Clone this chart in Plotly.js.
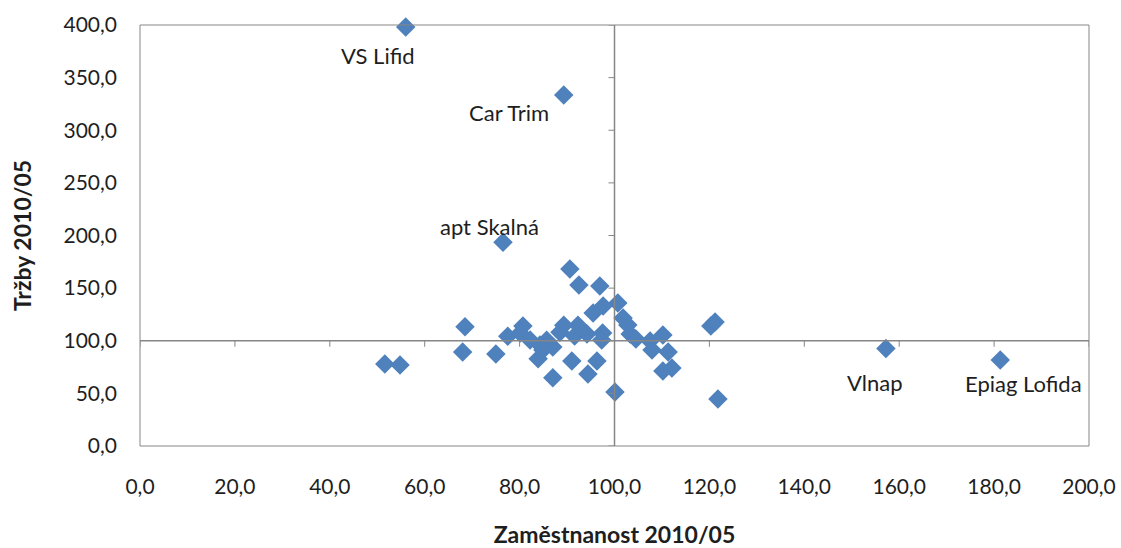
<!DOCTYPE html>
<html><head><meta charset="utf-8">
<script src="https://cdn.plot.ly/plotly-3.0.1.min.js"></script>
<style>html,body{margin:0;padding:0;background:#fff}#chart{width:1121px;height:548px}</style>
</head><body><div id="chart"></div>
<script>
// Zaměstnanost 2010/05 (x) vs Tržby 2010/05 (y)
const zamestnanost = [51.6,54.8,68.5,68.0,75.0,76.5,56.0,89.3,77.5,80.7,83.9,87.0,90.6,92.5,96.9,100.7,97.6,95.5,89.3,92.3,88.5,85.7,84.9,87.0,91.6,94.2,97.5,97.3,91.0,96.3,94.4,100.1,101.8,102.8,103.3,104.5,107.5,107.9,110.2,111.3,110.2,112.1,120.3,121.2,121.8,157.2,181.3,82.2,84.3,80.1];
const trzby = [77.9,77.0,113.2,89.3,87.4,193.6,398.1,333.5,104.3,114.0,82.9,64.8,168.2,153.0,152.0,135.9,133.0,126.4,114.7,114.7,108.1,100.5,91.2,94.1,104.5,106.4,107.3,100.6,80.8,80.8,68.4,51.3,121.6,115.0,106.4,101.7,99.8,91.2,105.5,89.3,71.3,74.1,114.0,117.8,44.7,92.6,81.7,100.7,96.0,107.4];
const labelNames = ["VS Lifid","Car Trim","apt Skalná","Vlnap","Epiag Lofida"];
const labelX = [56.0,89.3,76.5,157.2,181.3];
const labelY = [398.1,333.5,193.6,92.6,81.7];
const labelShift = [[-28,-28],[-55,-18],[-13,16],[-11,-34],[23,-23]];
const xTicks = [0,20,40,60,80,100,120,140,160,180,200];
const yTicks = [0,50,100,150,200,250,300,350,400];

const axisGrey = '#868686';
const font = 'Lato, "Open Sans", sans-serif';
const txt = '#1e1e1e';

const shapes = [
  {type:'rect', xref:'paper', yref:'paper', x0:0, x1:1, y0:0, y1:1, line:{color:axisGrey, width:1}},
  {type:'line', xref:'x', yref:'y', x0:100, x1:100, y0:0, y1:400, line:{color:axisGrey, width:1.5}},
  {type:'line', xref:'x', yref:'y', x0:0, x1:200, y0:100, y1:100, line:{color:axisGrey, width:1.5}}
];
yTicks.forEach(v => shapes.push({type:'line', xref:'x', yref:'y', xsizemode:'pixel', xanchor:100, x0:-6, x1:0, y0:v, y1:v, line:{color:axisGrey, width:1}}));
xTicks.forEach(v => shapes.push({type:'line', xref:'x', yref:'y', ysizemode:'pixel', yanchor:100, y0:-6, y1:0, x0:v, x1:v, line:{color:axisGrey, width:1}}));

const annotations = labelNames.map((t,i) => ({
  x: labelX[i], y: labelY[i], xref:'x', yref:'y', text:t, showarrow:false,
  xshift: labelShift[i][0], yshift: labelShift[i][1],
  font:{family:font, size:22, color:txt}
}));

const data = [{
  type:'scatter', mode:'markers', x:zamestnanost, y:trzby,
  marker:{symbol:'diamond', size:15, color:'#4F81BD'},
  cliponaxis:false, hoverinfo:'x+y'
}];

const layout = {
  width:1121, height:548,
  margin:{l:140, r:32, t:25, b:102},
  paper_bgcolor:'#fff', plot_bgcolor:'#fff',
  showlegend:false,
  separators:', ',
  font:{family:font, size:21, color:txt},
  xaxis:{range:[0,200], tickvals:xTicks, tickformat:'.1f', showgrid:false, zeroline:false, showline:false, ticks:'', ticklabelstandoff:26,
    title:{text:'<b>Zaměstnanost 2010/05</b>', font:{family:font, size:23, color:txt}, standoff:32}},
  yaxis:{range:[0,400], tickvals:yTicks, tickformat:'.1f', showgrid:false, zeroline:false, showline:false, ticks:'', ticklabelstandoff:22,
    title:{text:'<b>Tržby 2010/05</b>', font:{family:font, size:23, color:txt}, standoff:25}},
  shapes:shapes,
  annotations:annotations
};
Plotly.newPlot('chart', data, layout, {displayModeBar:false, staticPlot:true});
</script></body></html>
